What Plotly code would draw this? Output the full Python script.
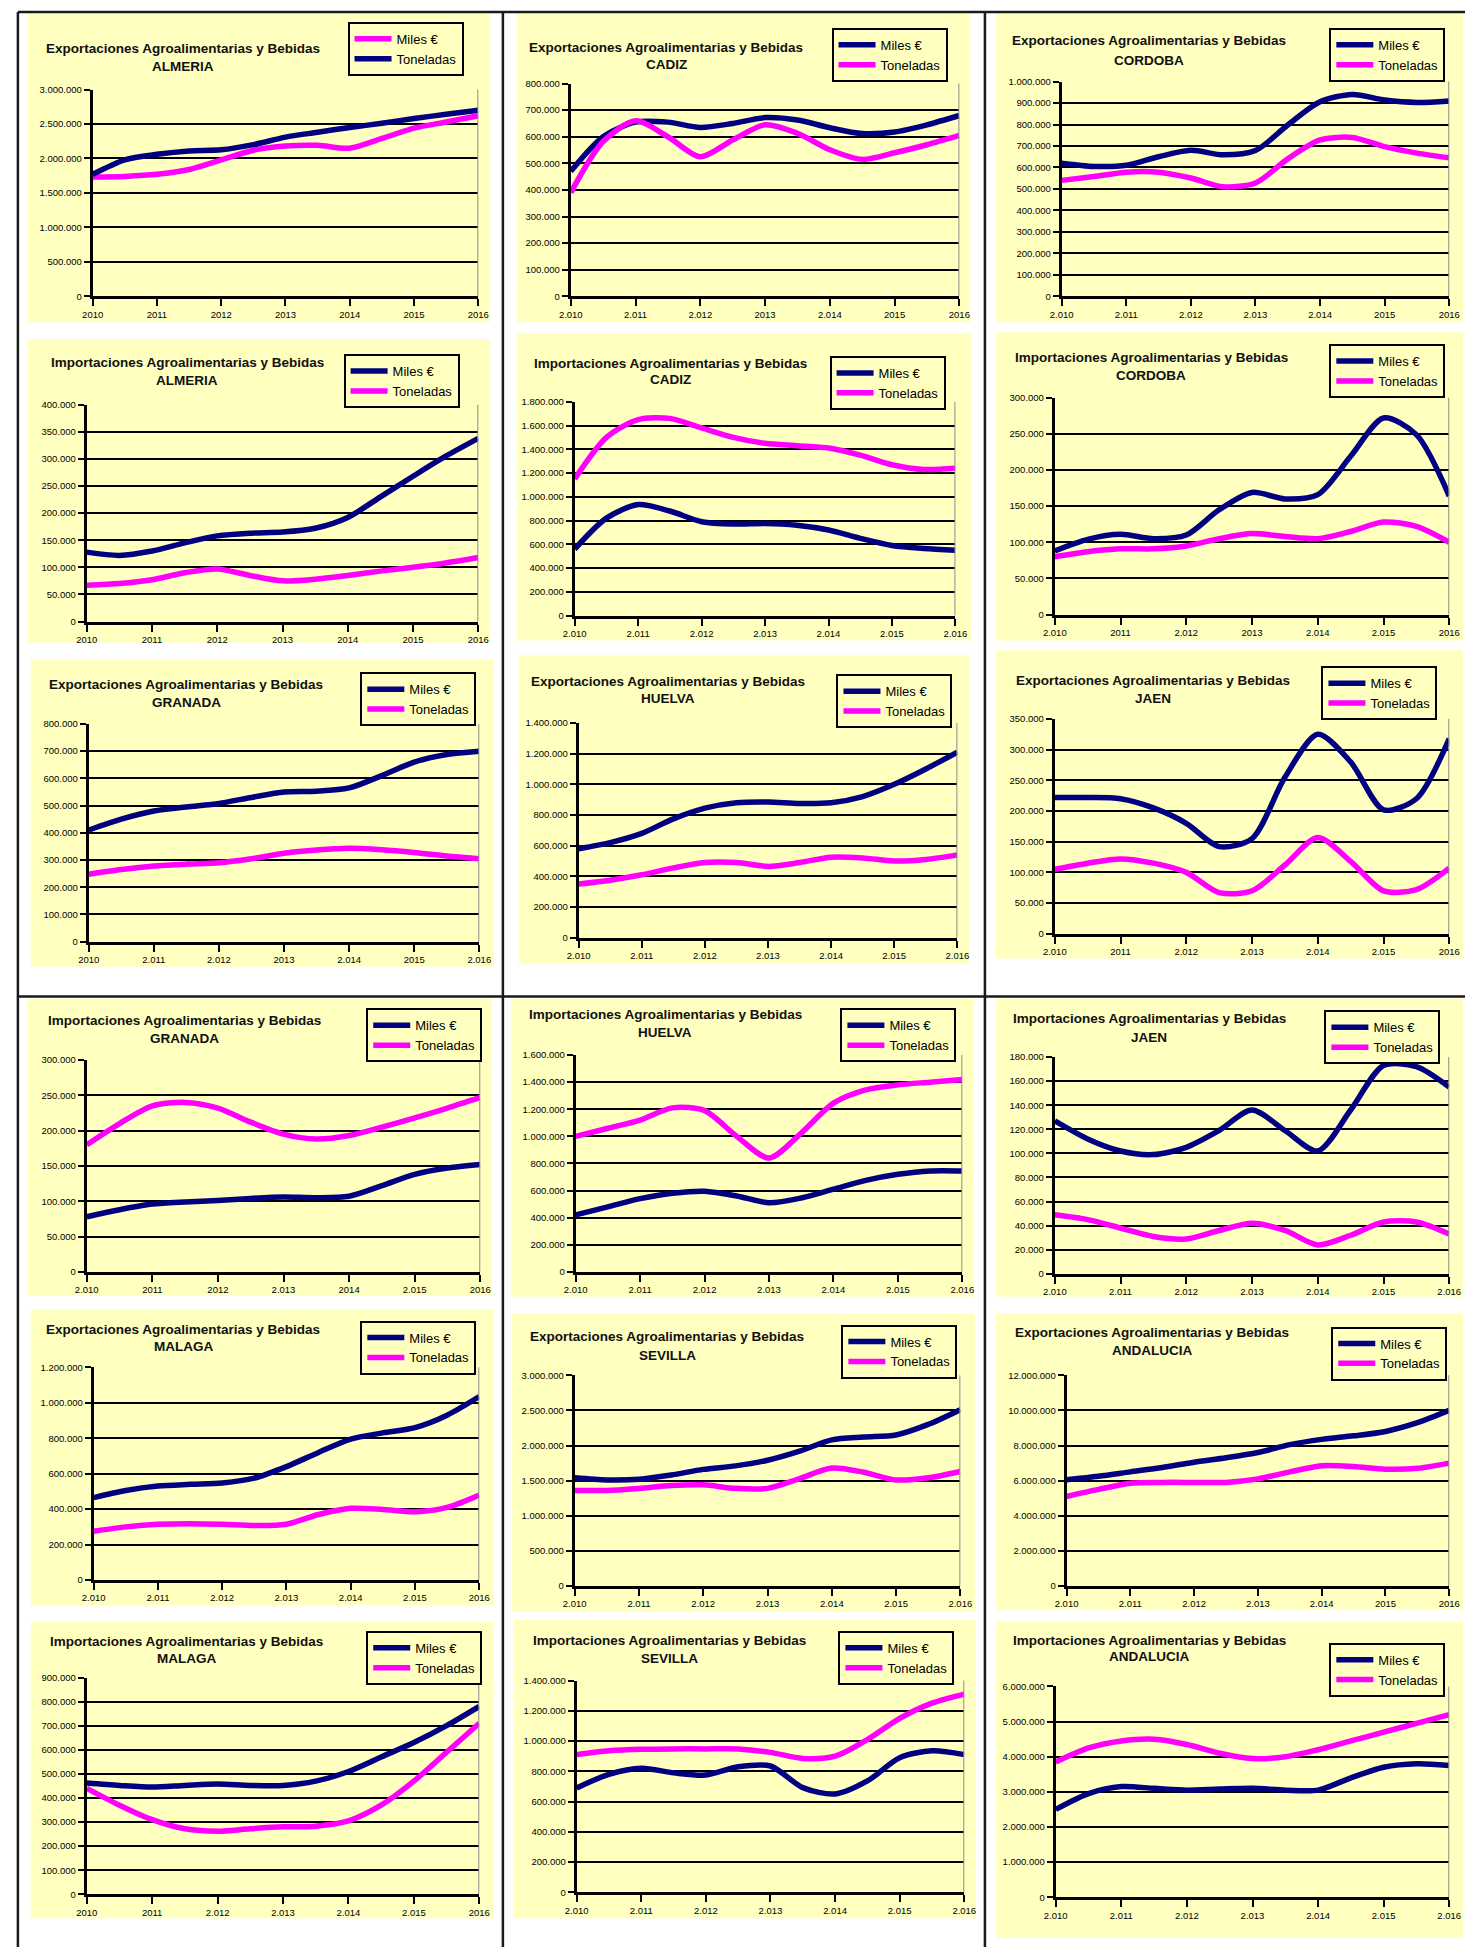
import plotly.graph_objects as go

W, H = 1477, 1952
NAVY = "#000080"
MAGENTA = "#FF00FF"
YELLOW = "#FFFFC0"
FONT = "Liberation Sans, Arial, sans-serif"

# ---------------- data (semi-annual readings) ----------------
PERIODS = [2010.0, 2010.5, 2011.0, 2011.5, 2012.0, 2012.5, 2013.0,
           2013.5, 2014.0, 2014.5, 2015.0, 2015.5, 2016.0]
YEAR_TICKS = [2010, 2011, 2012, 2013, 2014, 2015, 2016]

exp_almeria_miles = [1730000, 1740000, 1770000, 1840000, 1980000, 2120000, 2180000, 2190000, 2150000, 2290000, 2440000, 2530000, 2620000]
exp_almeria_ton = [1770000, 1980000, 2060000, 2110000, 2125000, 2200000, 2310000, 2380000, 2450000, 2510000, 2580000, 2640000, 2700000]

exp_cadiz_miles = [470000, 600000, 655000, 655000, 635000, 650000, 672000, 663000, 634000, 612000, 618000, 645000, 680000]
exp_cadiz_ton = [390000, 582000, 660000, 600000, 525000, 588000, 645000, 613000, 551000, 515000, 540000, 570000, 605000]

exp_cordoba_miles = [620000, 605000, 610000, 650000, 680000, 659000, 679000, 798000, 906000, 940000, 914000, 903000, 910000]
exp_cordoba_ton = [540000, 558000, 578000, 578000, 551000, 510000, 528000, 640000, 728000, 740000, 697000, 667000, 645000]

imp_almeria_miles = [128000, 122000, 130000, 145000, 158000, 163000, 165000, 172000, 192000, 230000, 268000, 305000, 338000]
imp_almeria_ton = [67000, 70000, 77000, 90000, 97000, 85000, 75000, 78000, 85000, 93000, 100000, 108000, 118000]

imp_cadiz_miles = [560000, 820000, 935000, 880000, 790000, 770000, 775000, 760000, 720000, 650000, 590000, 565000, 550000]
imp_cadiz_ton = [1150000, 1500000, 1650000, 1660000, 1580000, 1500000, 1450000, 1430000, 1410000, 1350000, 1270000, 1230000, 1240000]

imp_cordoba_miles = [88000, 104000, 111000, 105000, 110000, 145000, 169000, 160000, 166000, 219000, 272000, 249000, 164000]
imp_cordoba_ton = [80000, 87000, 91000, 91000, 95000, 105000, 112000, 108000, 105000, 115000, 128000, 122000, 100000]

exp_granada_miles = [410000, 450000, 480000, 495000, 508000, 530000, 550000, 553000, 565000, 610000, 660000, 688000, 700000]
exp_granada_ton = [248000, 265000, 278000, 285000, 290000, 305000, 325000, 337000, 343000, 338000, 328000, 315000, 305000]

exp_huelva_miles = [580000, 620000, 680000, 775000, 845000, 880000, 885000, 875000, 880000, 920000, 1000000, 1100000, 1210000]
exp_huelva_ton = [350000, 375000, 410000, 455000, 490000, 490000, 465000, 490000, 525000, 520000, 500000, 510000, 540000]

exp_jaen_miles = [222000, 222000, 220000, 205000, 180000, 142000, 155000, 255000, 325000, 280000, 202000, 220000, 318000]
exp_jaen_ton = [105000, 115000, 122000, 115000, 100000, 67000, 70000, 112000, 157000, 118000, 70000, 72000, 107000]

imp_granada_miles = [78000, 88000, 96000, 99000, 101000, 104000, 106000, 105000, 107000, 122000, 138000, 147000, 152000]
imp_granada_ton = [180000, 210000, 235000, 240000, 232000, 212000, 195000, 188000, 193000, 205000, 218000, 232000, 247000]

imp_huelva_miles = [420000, 480000, 540000, 580000, 595000, 560000, 510000, 545000, 610000, 675000, 720000, 745000, 745000]
imp_huelva_ton = [1000000, 1060000, 1120000, 1210000, 1190000, 1000000, 840000, 1024000, 1245000, 1343000, 1380000, 1400000, 1420000]

imp_jaen_miles = [127000, 112000, 102000, 99000, 105000, 119000, 136000, 119000, 102000, 136000, 173000, 172000, 155000]
imp_jaen_ton = [49000, 45000, 38000, 31000, 29000, 36000, 42000, 36000, 24000, 32000, 43000, 43000, 33000]

exp_malaga_miles = [465000, 505000, 530000, 540000, 548000, 575000, 640000, 720000, 795000, 830000, 860000, 930000, 1035000]
exp_malaga_ton = [275000, 300000, 315000, 318000, 315000, 308000, 315000, 370000, 405000, 398000, 385000, 410000, 480000]

exp_sevilla_miles = [1540000, 1510000, 1520000, 1580000, 1660000, 1710000, 1790000, 1920000, 2080000, 2120000, 2150000, 2300000, 2510000]
exp_sevilla_ton = [1360000, 1360000, 1390000, 1430000, 1440000, 1390000, 1390000, 1530000, 1680000, 1620000, 1510000, 1540000, 1630000]

exp_andalucia_miles = [6050000, 6250000, 6500000, 6750000, 7050000, 7300000, 7600000, 8050000, 8350000, 8550000, 8800000, 9300000, 10000000]
exp_andalucia_ton = [5100000, 5500000, 5850000, 5900000, 5900000, 5900000, 6100000, 6500000, 6850000, 6800000, 6650000, 6700000, 7000000]

imp_malaga_miles = [462000, 452000, 445000, 452000, 458000, 452000, 452000, 470000, 510000, 570000, 630000, 700000, 780000]
imp_malaga_ton = [440000, 370000, 310000, 272000, 262000, 272000, 280000, 283000, 305000, 370000, 470000, 590000, 710000]

imp_sevilla_miles = [690000, 780000, 820000, 790000, 775000, 830000, 835000, 692000, 650000, 736000, 890000, 935000, 910000]
imp_sevilla_ton = [910000, 935000, 945000, 948000, 948000, 948000, 925000, 885000, 900000, 1010000, 1150000, 1250000, 1310000]

imp_andalucia_miles = [2500000, 2950000, 3150000, 3100000, 3050000, 3080000, 3100000, 3050000, 3050000, 3400000, 3700000, 3800000, 3750000]
imp_andalucia_ton = [3850000, 4250000, 4450000, 4500000, 4350000, 4100000, 3950000, 4000000, 4200000, 4450000, 4700000, 4950000, 5200000]

# titles / axis settings
TITLE_EXP = "Exportaciones Agroalimentarias y Bebidas"
TITLE_IMP = "Importaciones Agroalimentarias y Bebidas"
panel_titles = [
    (TITLE_EXP, "ALMERIA"), (TITLE_EXP, "CADIZ"), (TITLE_EXP, "CORDOBA"),
    (TITLE_IMP, "ALMERIA"), (TITLE_IMP, "CADIZ"), (TITLE_IMP, "CORDOBA"),
    (TITLE_EXP, "GRANADA"), (TITLE_EXP, "HUELVA"), (TITLE_EXP, "JAEN"),
    (TITLE_IMP, "GRANADA"), (TITLE_IMP, "HUELVA"), (TITLE_IMP, "JAEN"),
    (TITLE_EXP, "MALAGA"), (TITLE_EXP, "SEVILLA"), (TITLE_EXP, "ANDALUCIA"),
    (TITLE_IMP, "MALAGA"), (TITLE_IMP, "SEVILLA"), (TITLE_IMP, "ANDALUCIA"),
]
panel_series = [
    (exp_almeria_miles, exp_almeria_ton), (exp_cadiz_miles, exp_cadiz_ton), (exp_cordoba_miles, exp_cordoba_ton),
    (imp_almeria_miles, imp_almeria_ton), (imp_cadiz_miles, imp_cadiz_ton), (imp_cordoba_miles, imp_cordoba_ton),
    (exp_granada_miles, exp_granada_ton), (exp_huelva_miles, exp_huelva_ton), (exp_jaen_miles, exp_jaen_ton),
    (imp_granada_miles, imp_granada_ton), (imp_huelva_miles, imp_huelva_ton), (imp_jaen_miles, imp_jaen_ton),
    (exp_malaga_miles, exp_malaga_ton), (exp_sevilla_miles, exp_sevilla_ton), (exp_andalucia_miles, exp_andalucia_ton),
    (imp_malaga_miles, imp_malaga_ton), (imp_sevilla_miles, imp_sevilla_ton), (imp_andalucia_miles, imp_andalucia_ton),
]
y_max = [3000000, 800000, 1000000, 400000, 1800000, 300000,
         800000, 1400000, 350000, 300000, 1600000, 180000,
         1200000, 3000000, 12000000, 900000, 1400000, 6000000]
y_step = [500000, 100000, 100000, 50000, 200000, 50000,
          100000, 200000, 50000, 50000, 200000, 20000,
          200000, 500000, 2000000, 100000, 200000, 1000000]
x_ticktext = [
    ["2010", "2011", "2012", "2013", "2014", "2015", "2016"],
    ["2.010", "2.011", "2.012", "2013", "2.014", "2015", "2016"],
    ["2.010", "2.011", "2.012", "2.013", "2.014", "2015", "2016"],
    ["2010", "2011", "2012", "2013", "2014", "2015", "2016"],
    ["2.010", "2.011", "2.012", "2.013", "2.014", "2.015", "2.016"],
    ["2.010", "2011", "2.012", "2013", "2.014", "2.015", "2016"],
    ["2010", "2.011", "2.012", "2013", "2.014", "2015", "2.016"],
    ["2.010", "2.011", "2.012", "2.013", "2.014", "2.015", "2.016"],
    ["2.010", "2011", "2.012", "2.013", "2.014", "2.015", "2016"],
    ["2.010", "2011", "2012", "2.013", "2014", "2.015", "2016"],
    ["2.010", "2.011", "2.012", "2.013", "2.014", "2.015", "2.016"],
    ["2.010", "2.011", "2.012", "2.013", "2.014", "2.015", "2.016"],
    ["2.010", "2.011", "2.012", "2.013", "2.014", "2.015", "2016"],
    ["2.010", "2.011", "2.012", "2.013", "2.014", "2.015", "2.016"],
    ["2.010", "2.011", "2.012", "2.013", "2.014", "2015", "2016"],
    ["2010", "2011", "2.012", "2.013", "2.014", "2.015", "2016"],
    ["2.010", "2.011", "2.012", "2.013", "2.014", "2.015", "2.016"],
    ["2.010", "2.011", "2.012", "2.013", "2.014", "2.015", "2.016"],
]
SERIES_NAMES = ["Miles €", "Toneladas"]

# ---------------- layout geometry (pixels) ----------------
plot_px = [
    (82, 474, 84, 292), (568, 963, 78, 292), (1067, 1461, 76, 292),
    (76, 474, 401, 619), (572, 959, 398, 613), (1060, 1461, 394, 612),
    (78, 475, 722, 941), (576, 961, 721, 937), (1060, 1461, 717, 933),
    (76, 476, 1060, 1273), (573, 966, 1055, 1273), (1060, 1461, 1057, 1275),
    (83, 475, 1369, 1583), (572, 964, 1377, 1589), (1072, 1461, 1377, 1589),
    (76, 475, 1681, 1899), (574, 968, 1684, 1897), (1061, 1461, 1690, 1902),
]
yellow_px = [
    (16, 486, 8, 318), (513, 974, 8, 318), (1000, 1475, 8, 318),
    (16, 486, 335, 640), (513, 975, 329, 638), (1000, 1475, 328, 638),
    (19, 490, 657, 966), (515, 973, 653, 963), (1000, 1475, 648, 958),
    (16, 488, 998, 1297), (507, 978, 998, 1298), (1000, 1475, 998, 1298),
    (19, 490, 1311, 1608), (508, 979, 1315, 1615), (1000, 1475, 1315, 1613),
    (19, 490, 1625, 1923), (510, 980, 1623, 1923), (1000, 1475, 1625, 1943),
]
legend_px = [
    (459, 16), (951, 22), (1457, 22),
    (455, 350), (949, 352), (1457, 340),
    (472, 670), (956, 672), (1449, 664),
    (478, 1008), (960, 1008), (1452, 1010),
    (472, 1322), (961, 1326), (1459, 1328),
    (478, 1634), (958, 1634), (1457, 1646),
]
title_px = [
    (174, 43, 61), (665, 42, 59), (1156, 35, 55),
    (178, 359, 377), (669, 360, 376), (1158, 353, 372),
    (177, 682, 700), (667, 679, 696), (1160, 678, 696),
    (175, 1020, 1038), (664, 1014, 1032), (1156, 1018, 1037),
    (174, 1331, 1348), (666, 1338, 1357), (1159, 1334, 1352),
    (177, 1645, 1662), (668, 1644, 1662), (1156, 1644, 1660),
]


def px_x(v):
    return v / W


def px_y(v):
    return 1 - v / H


def fmt(v):
    return f"{v:,}".replace(",", ".")


fig = go.Figure()
layout = dict(
    width=W, height=H, margin=dict(l=0, r=0, t=0, b=0),
    paper_bgcolor="white", plot_bgcolor=YELLOW,
    font=dict(family=FONT, color="black"),
    showlegend=True, shapes=[], annotations=[],
)

for i in range(18):
    n = i + 1
    sfx = "" if n == 1 else str(n)
    xref, yref = "x" + sfx, "y" + sfx
    legname = "legend" + sfx
    miles, ton = panel_series[i]
    if n == 1:
        colors = [MAGENTA, NAVY]
    else:
        colors = [NAVY, MAGENTA]
    for k, (vals, col) in enumerate(zip((miles, ton), colors)):
        fig.add_trace(go.Scatter(
            x=PERIODS, y=vals, mode="lines", name=SERIES_NAMES[k],
            line=dict(color=col, width=5.5, shape="spline", smoothing=0.8),
            xaxis=xref, yaxis=yref, legend=legname,
            legendgroup=f"g{n}_{k}", hoverinfo="skip",
        ))

    x0, x1, y0, y1 = plot_px[i]
    tvals = list(range(0, y_max[i] + 1, y_step[i]))
    layout["xaxis" + sfx] = dict(
        domain=[px_x(x0), px_x(x1)], range=[2010, 2016], anchor=yref,
        tickmode="array", tickvals=YEAR_TICKS, ticktext=x_ticktext[i],
        ticks="outside", ticklen=7, tickwidth=2, tickcolor="black",
        showline=True, linecolor="black", linewidth=3,
        showgrid=False, zeroline=False,
        tickfont=dict(size=9.5, family=FONT, color="black"), fixedrange=True,
    )
    layout["yaxis" + sfx] = dict(
        domain=[px_y(y1), px_y(y0)], range=[0, y_max[i]], anchor=xref,
        tickmode="array", tickvals=tvals, ticktext=[fmt(v) for v in tvals],
        ticks="outside", ticklen=6, tickwidth=2, tickcolor="black",
        showline=True, linecolor="black", linewidth=3,
        showgrid=True, gridcolor="black", gridwidth=2, zeroline=False,
        tickfont=dict(size=9.5, family=FONT, color="black"), fixedrange=True,
    )
    lx, ly = legend_px[i]
    layout[legname] = dict(
        x=px_x(lx), y=px_y(ly), xanchor="right", yanchor="top",
        bgcolor=YELLOW, bordercolor="black", borderwidth=2,
        font=dict(size=13, family=FONT, color="black"),
        itemwidth=37, tracegroupgap=3, traceorder="normal",
    )
    # yellow panel background
    ya = yellow_px[i]
    layout["shapes"].append(dict(
        type="rect", xref="paper", yref="paper", layer="below",
        x0=px_x(ya[0]), x1=px_x(ya[1]), y0=px_y(ya[3]), y1=px_y(ya[2]),
        fillcolor=YELLOW, line=dict(width=0),
    ))
    # grey right border of plot area
    layout["shapes"].append(dict(
        type="line", xref=xref, yref=yref + " domain", layer="above",
        x0=2016, x1=2016, y0=0, y1=1, line=dict(color="#8c8c8c", width=2),
    ))
    # titles
    tcx, t1, t2 = title_px[i]
    l1, l2 = panel_titles[i]
    for txt, ty in ((l1, t1), (l2, t2)):
        layout["annotations"].append(dict(
            text=f"<b>{txt}</b>", xref="paper", yref="paper",
            x=px_x(tcx), y=px_y(ty), xanchor="center", yanchor="middle",
            showarrow=False, font=dict(size=13.5, family=FONT, color="#111111"),
        ))

# table frame lines
border = dict(color="#1a1a1a", width=2.5)
for (ax0, ay0, ax1, ay1) in [(6, 6, W, 6), (6, 6, 6, H), (499, 6, 499, H),
                             (989, 6, 989, H), (6, 996, W, 996)]:
    layout["shapes"].append(dict(
        type="line", xref="paper", yref="paper", layer="above",
        x0=px_x(ax0), x1=px_x(ax1), y0=px_y(ay0), y1=px_y(ay1), line=border,
    ))

fig.update_layout(**layout)
fig.write_html(
    "out.html",
    config={"displayModeBar": False},
    post_script="document.body.style.margin='0';document.body.style.padding='0';",
)
